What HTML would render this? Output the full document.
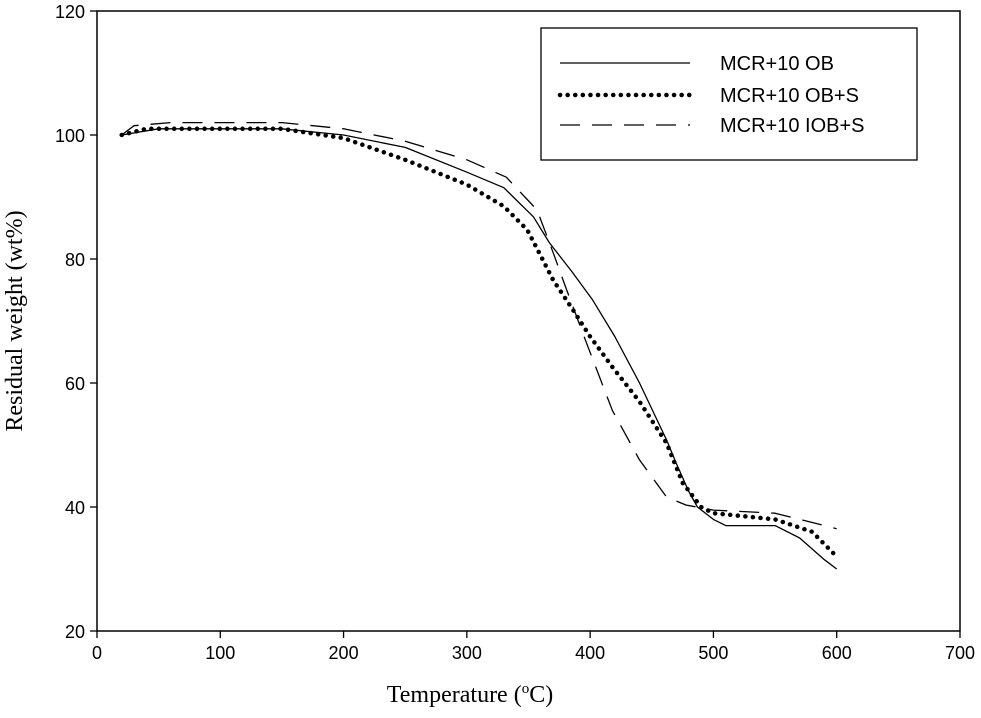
<!DOCTYPE html>
<html><head><meta charset="utf-8"><style>
body{margin:0;background:#fff}
svg text{font-family:"Liberation Sans",Arial,sans-serif;fill:#000}
</style></head><body>
<svg id="chart" width="981" height="713" viewBox="0 0 981 713" xmlns="http://www.w3.org/2000/svg">
<g id="plot"></g>
</svg>
<script>
const xTicks=[0,100,200,300,400,500,600,700];
const yTicks=[20,40,60,80,100,120];
const seriesNames=["MCR+10 OB","MCR+10 OB+S","MCR+10 IOB+S"];
const obT=[20,50,150,200,250,300,330,354,367,385,402,420,440,462,470,480,487,500,510,550,570,590,600];
const obW=[100,101,101,100,98,94,91.5,86.8,82.6,78,73.4,67.5,60,50.8,47,42.5,40,38,37,37,35,31.5,30];
const obsT=[20,40,150,200,250,300,330,349,360,370,386,400,418,440,462,475,490,500,550,580,600];
const obsW=[100,101,101,99.5,96,92,88.5,84.7,80.5,76.6,71.8,67.5,62.6,57,50.3,43.9,40,39,38,36,32];
const iobT=[20,30,60,150,200,250,300,332,357,370,381,397,418,440,462,478,500,550,600];
const iobW=[100,101.5,102,102,101,99,96,93.2,87.9,81,75,66.5,55.6,47.6,41.6,40.3,39.5,39,36.5];
const X0=97,X1=960,Y0=631,Y1=11;
function sx(v){return X0+(v-0)/(700-0)*(X1-X0);}
function sy(v){return Y0-(v-20)/(120-20)*(Y0-Y1);}
const NS="http://www.w3.org/2000/svg";
const g=document.getElementById('plot');
function mk(tag,attrs,parent){const e=document.createElementNS(NS,tag);for(const k in attrs)e.setAttribute(k,attrs[k]);(parent||g).appendChild(e);return e;}
let e=mk('rect',{x:X0,y:Y1,width:X1-X0,height:Y0-Y1,fill:'none',stroke:'#000','stroke-width':1.5});


xTicks.forEach(v=>{
  let t=mk('line',{x1:sx(v),x2:sx(v),y1:Y0,y2:Y0+7,stroke:'#000','stroke-width':1.3});
  
  
  let l=mk('text',{x:sx(v),y:Y0+28,'text-anchor':'middle','font-size':18});
  l.textContent=v;
  
  
});
yTicks.forEach(v=>{
  let t=mk('line',{x1:X0-7,x2:X0,y1:sy(v),y2:sy(v),stroke:'#000','stroke-width':1.3});
  
  
  let l=mk('text',{x:X0-12,y:sy(v)+7,'text-anchor':'end','font-size':18});
  l.textContent=v;
  
  
});
let xl=mk('text',{x:470,y:702,'text-anchor':'middle','font-size':24,style:'font-family:"Liberation Serif",serif'});
xl.innerHTML='Temperature (<tspan dy="-9" font-size="15">o</tspan><tspan dy="9">C)</tspan>';


let yl=mk('text',{x:0,y:0,'text-anchor':'middle','font-size':24,transform:'translate(22,321) rotate(-90)',style:'font-family:"Liberation Serif",serif'});
yl.textContent='Residual weight (wt%)';


const styles=[{sw:1.3,da:'none',lc:'butt'},{sw:4.5,da:'0.1 7.5',lc:'round'},{sw:1.3,da:'20 12',lc:'butt'}];
const data=[[obT,obW],[obsT,obsW],[iobT,iobW]];
const names=['series-mcr-10-ob','series-mcr-10-ob-s','series-mcr-10-iob-s'];
data.forEach((d,i)=>{
  const pts=d[0].map((t,j)=>sx(t).toFixed(1)+','+sy(d[1][j]).toFixed(1)).join(' ');
  let p=mk('polyline',{points:pts,fill:'none',stroke:'#000','stroke-width':styles[i].sw,'stroke-dasharray':styles[i].da,'stroke-linecap':styles[i].lc,'stroke-linejoin':'round'});
  
  
});
let lg=mk('g',{});


mk('rect',{x:541,y:28,width:376,height:132,fill:'#fff',stroke:'#000','stroke-width':1.3},lg);
const ly=[63,95,125];
seriesNames.forEach((n,i)=>{
  let l=mk('line',{x1:560,x2:690,y1:ly[i],y2:ly[i],stroke:'#000','stroke-width':styles[i].sw,'stroke-dasharray':styles[i].da,'stroke-linecap':styles[i].lc},lg);
  
  
  let t=mk('text',{x:720,y:ly[i]+7,'font-size':20},lg);
  t.textContent=n;
  
  
});
</script>
</body></html>
